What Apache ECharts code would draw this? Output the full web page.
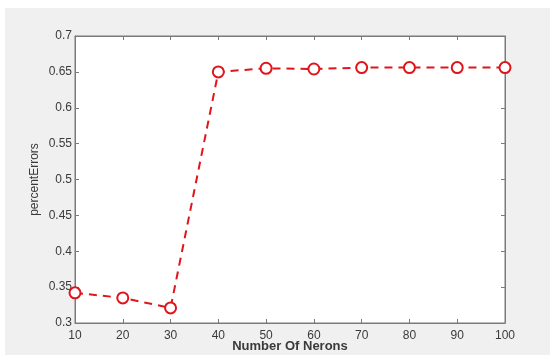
<!DOCTYPE html>
<html>
<head>
<meta charset="utf-8">
<script src="https://cdn.jsdelivr.net/npm/echarts@6/dist/echarts.min.js"></script>
<style>
  html, body { margin: 0; padding: 0; background: #fff; }
  #chart { position: absolute; left: 5px; top: 8px; width: 545px; height: 347px; }
</style>
</head>
<body>
<div id="chart"></div>
<script>
const neurons = [10, 20, 30, 40, 50, 60, 70, 80, 90, 100];
const percentErrors = [0.342, 0.335, 0.321, 0.650, 0.655, 0.654, 0.656, 0.656, 0.656, 0.656];

const chart = echarts.init(document.getElementById("chart"));

const labelStyle = { color: "#3a3a3a", fontSize: 12, fontFamily: "Liberation Sans" };
const lineCol = "#7a7a7a";

const option = {
  backgroundColor: "#f0f0f0",
  animation: false,
  grid: {
    left: 70, right: 45, top: 28, bottom: 32,
    outerBoundsMode: "none",
    show: true, backgroundColor: "#fff", borderColor: lineCol, borderWidth: 1
  },
  xAxis: [
    {
      type: "value", min: 10, max: 100, interval: 10,
      name: "Number Of Nerons", nameLocation: "middle", nameGap: 17,
      nameMoveOverlap: false,
      nameTextStyle: { color: "#3a3a3a", fontSize: 13, fontWeight: "bold", fontFamily: "Liberation Sans" },
      axisLine: { lineStyle: { color: lineCol } },
      axisTick: { inside: true, length: 4, lineStyle: { color: lineCol } },
      axisLabel: Object.assign({ margin: 7 }, labelStyle),
      splitLine: { show: false }
    },
    {
      type: "value", min: 10, max: 100, interval: 10, position: "top",
      axisLine: { lineStyle: { color: lineCol } },
      axisTick: { inside: true, length: 4, lineStyle: { color: lineCol } },
      axisLabel: { show: false }, splitLine: { show: false }
    }
  ],
  yAxis: [
    {
      type: "value", min: 0.3, max: 0.7, interval: 0.05,
      name: "percentErrors", nameLocation: "middle", nameGap: 34,
      nameMoveOverlap: false,
      nameTextStyle: { color: "#3a3a3a", fontSize: 12, fontFamily: "Liberation Sans" },
      axisLine: { show: true, lineStyle: { color: lineCol } },
      axisTick: { show: true, inside: true, length: 4, lineStyle: { color: lineCol } },
      axisLabel: Object.assign({ margin: 3 }, labelStyle),
      splitLine: { show: false }
    },
    {
      type: "value", min: 0.3, max: 0.7, interval: 0.05, position: "right",
      axisLine: { show: true, lineStyle: { color: lineCol } },
      axisTick: { show: true, inside: true, length: 4, lineStyle: { color: lineCol } },
      axisLabel: { show: false }, splitLine: { show: false }
    }
  ],
  series: [
    {
      type: "line",
      data: neurons.map((n, i) => [n, percentErrors[i]]),
      symbol: "emptyCircle",
      symbolSize: 11,
      itemStyle: { color: "#e0151b", borderWidth: 2 },
      lineStyle: { color: "#e0151b", width: 2, type: [8, 6] }
    }
  ]
};

chart.setOption(option);
</script>
</body>
</html>
